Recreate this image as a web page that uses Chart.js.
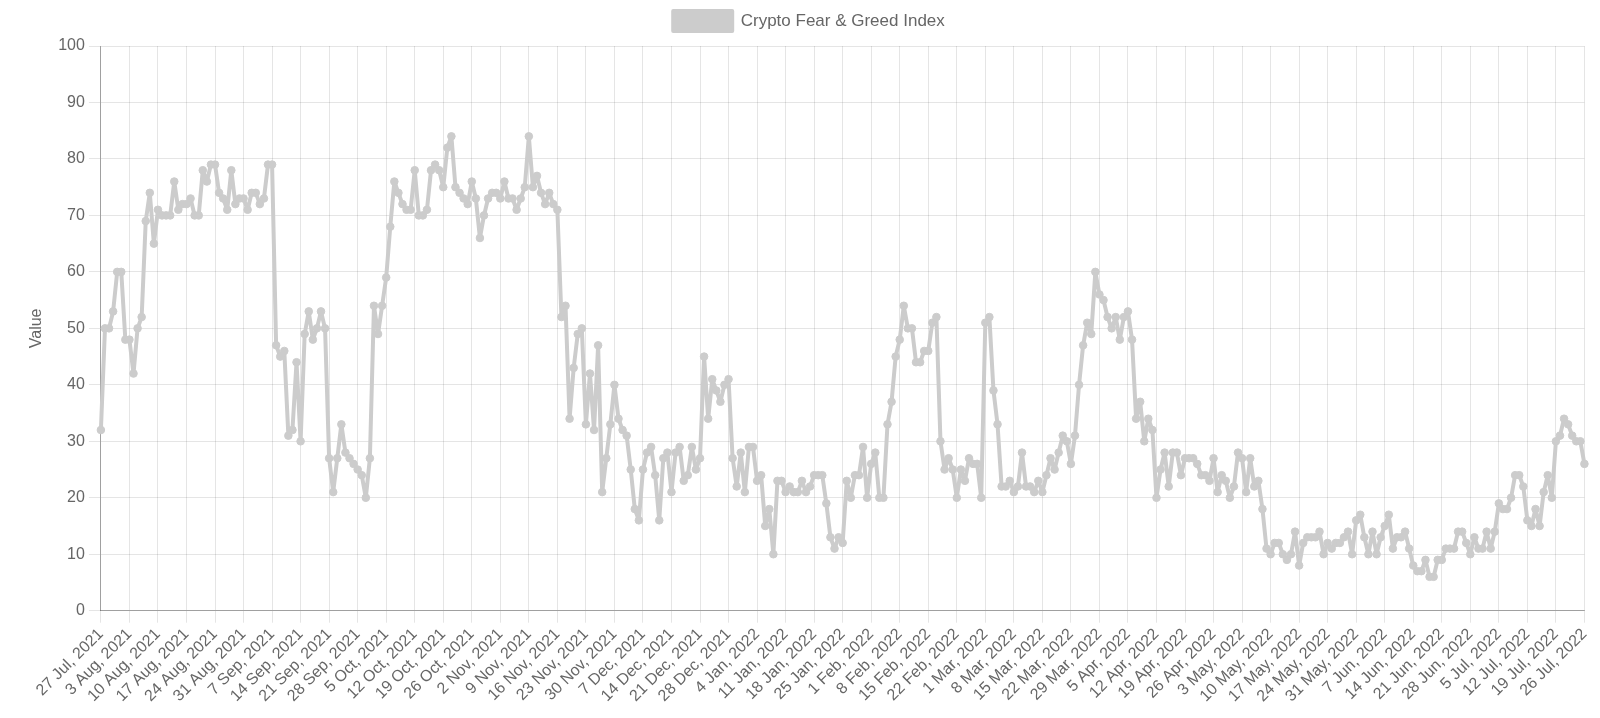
<!DOCTYPE html>
<html>
<head>
<meta charset="utf-8">
<script src="https://cdn.jsdelivr.net/npm/chart.js@4.4.0/dist/chart.umd.min.js"></script>
<style>
  html, body { margin: 0; padding: 0; background: #ffffff; }
  #wrap { width: 1600px; height: 718px; }
</style>
</head>
<body>
<div id="wrap"><canvas id="c" width="1600" height="718"></canvas></div>
<script>
// Daily values, 27 Jul 2021 .. 26 Jul 2022
const values2021Q3 = [
  32,50,50,53,60,60,48, 48,42,50,52,69,74,65, 71,70,70,70,76,71,72,
  72,73,70,70,78,76,79, 79,74,73,71,78,72,73, 73,71,74,74,72,73,79,
  79,47,45,46,31,32,44, 30,49,53,48,50,53,50, 27,21,27,33,28,27,26,
  25,24,20,27,54,49,54, 59,68,76,74,72,71,71, 78,70,70,71,78,79,78,
  75,82,84,75,74,73,72
];
const values2021Q4 = [
  76,73,66,70,73,74,74, 73,76,73,73,71,73,75, 84,75,77,74,72,74,72,
  71,52,54,34,43,49,50, 33,42,32,47,21,27,33, 40,34,32,31,25,18,16,
  25,28,29,24,16,27,28, 21,28,29,23,24,29,25, 27,45,34,41,39,37,40,
  41,27,22,28,21,29,29, 23,24,15,18,10,23,23, 21,22,21,21,23,21,22,
  24,24,24,19,13,11,13
];
const values2022Q1 = [
  12,23,20,24,24,29,20, 26,28,20,20,33,37,45, 48,54,50,50,44,44,46,
  46,51,52,30,25,27,25, 20,25,23,27,26,26,20, 51,52,39,33,22,22,23,
  21,22,28,22,22,21,23, 21,24,27,25,28,31,30, 26,31,40,47,51,49,60,
  56,55,52,50,52,48,52, 53,48,34,37,30,34,32, 20,25,28,22,28,28,24,
  27,27,27,26,24,24,23
];
const values2022Q2 = [
  27,21,24,23,20,22,28, 27,21,27,22,23,18,11, 10,12,12,10,9,10,14,
  8,12,13,13,13,14,10, 12,11,12,12,13,14,10, 16,17,13,10,14,10,13,
  15,17,11,13,13,14,11, 8,7,7,9,6,6,9, 9,11,11,11,14,14,12,
  10,13,11,11,14,11,14, 19,18,18,20,24,24,22, 16,15,18,15,21,24,20,
  30,31,34,33,31,30,30, 26
];
const seriesName = 'Crypto Fear & Greed Index';
const axisTitleY = 'Value';
const monthNames = ['Jan','Feb','Mar','Apr','May','Jun','Jul','Aug','Sep','Oct','Nov','Dec'];
const startDate = [2021, 6, 27]; // 27 Jul 2021
const labelEvery = 7;

const values = [].concat(values2021Q3, values2021Q4, values2022Q1, values2022Q2);
const categories = values.map((_, i) => {
  const d = new Date(Date.UTC(startDate[0], startDate[1], startDate[2] + i));
  return d.getUTCDate() + ' ' + monthNames[d.getUTCMonth()] + ', ' + d.getUTCFullYear();
});

const FONT = '"Liberation Sans", Arial, Helvetica, sans-serif';
const TXT = '#666666';
const GRID = 'rgba(0,0,0,0.1)';
const AXIS = 'rgba(0,0,0,0.3)';
const LINE = 'rgb(204,204,204)';

const legendMargin = {
  id: 'legendMargin',
  beforeInit(chart) {
    const orig = chart.legend.fit;
    chart.legend.fit = function () {
      orig.bind(chart.legend)();
      this.height += 5;
    };
  }
};

new Chart(document.getElementById('c'), {
  type: 'line',
  plugins: [legendMargin],
  data: {
    labels: categories,
    datasets: [{
      label: seriesName,
      data: values,
      borderColor: LINE,
      backgroundColor: LINE,
      pointBackgroundColor: LINE,
      pointBorderColor: LINE,
      borderWidth: 4,
      borderJoinStyle: 'round',
      borderCapStyle: 'round',
      pointRadius: 3.8,
      pointBorderWidth: 1,
      tension: 0,
      fill: false
    }]
  },
  options: {
    responsive: false,
    devicePixelRatio: 1,
    animation: false,
    layout: { padding: { left: 27, right: 9, top: 1, bottom: 10 } },
    plugins: {
      legend: {
        display: true,
        position: 'top',
        labels: {
          font: { family: FONT, size: 17 },
          color: TXT,
          boxWidth: 59,
          boxHeight: 20,
          padding: 10
        }
      },
      tooltip: { enabled: false }
    },
    scales: {
      x: {
        type: 'category',
        offset: false,
        grid: { color: GRID, tickLength: 12, drawTicks: true },
        border: { color: AXIS },
        ticks: {
          autoSkip: false,
          maxRotation: 45,
          minRotation: 45,
          font: { family: FONT, size: 16 },
          color: TXT,
          padding: 2,
          callback: function(v, i) { return i % labelEvery === 0 ? categories[i] : null; }
        }
      },
      y: {
        min: 0,
        max: 100,
        grid: { color: GRID, tickLength: 12 },
        border: { color: AXIS },
        ticks: {
          stepSize: 10,
          font: { family: FONT, size: 16 },
          color: TXT,
          padding: 4
        },
        title: {
          display: true,
          text: axisTitleY,
          font: { family: FONT, size: 16 },
          color: TXT,
          padding: { top: 0, bottom: 8 }
        }
      }
    }
  }
});
</script>
</body>
</html>
